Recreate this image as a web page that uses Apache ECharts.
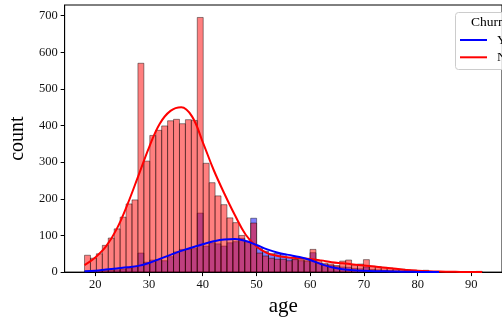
<!DOCTYPE html>
<html>
<head>
<meta charset="utf-8">
<script src="https://cdn.jsdelivr.net/npm/echarts@6/dist/echarts.min.js"></script>
<style>
  html, body { margin: 0; padding: 0; background: #fff; }
  #chart { width: 502px; height: 322px; }
</style>
</head>
<body>
<div id="chart"></div>
<script>
// histogram bins: 67 equal bins between the youngest and oldest age
const binStart = 18;
const binEnd = 92;
const binCount = 67;

// counts per bin
const noCounts = [
  46, 38, 50, 73, 93, 118, 150, 186, 197, 570,
  303, 373, 387, 399, 413, 417, 405, 416, 414, 695,
  297, 244, 208, 184, 148, 135, 100, 84, 134, 52,
  44, 38, 35, 35, 31, 35, 34, 33, 62, 31,
  24, 22, 18, 30, 33, 20, 22, 34, 16, 15,
  13, 11, 9, 8, 6, 5, 4, 5, 1, 1,
  0, 0, 0, 0, 1, 0, 2
];
const yesCounts = [
  1, 2, 3, 4, 5, 6, 8, 11, 15, 52,
  27, 33, 34, 31, 42, 55, 62, 62, 64, 161,
  71, 80, 77, 71, 80, 83, 92, 84, 147, 65,
  57, 50, 51, 49, 40, 34, 31, 29, 53, 24,
  20, 18, 15, 14, 13, 10, 9, 14, 7, 6,
  5, 4, 3, 3, 2, 2, 1, 2, 1, 0,
  0, 0, 0, 0, 0, 0, 0
];

// density curves (scaled to counts)
const kdeAges = [18, 20, 22, 24, 26, 28, 30, 32, 34, 36, 38, 40, 42, 44, 46, 48, 50, 52, 54, 56,
  58, 60, 62, 64, 66, 68, 70, 72, 74, 76, 78, 80, 82, 84, 86, 88, 90, 92];
const noKde = [19, 40, 70, 118, 185, 262, 340, 405, 440, 450, 425, 355, 280, 215, 155, 102, 70, 52, 44, 40,
  38, 36, 32, 27, 24, 21, 18, 15, 12, 9, 6, 4, 2.5, 1.5, 1, 0.5, 0.3, 0.2];
const yesKde = [2, 4, 7, 10, 13, 17, 25, 36, 47, 58, 67, 76, 84, 89, 90, 85, 74, 62, 53, 47,
  41, 33, 22, 13, 8, 5, 3.5, 2.5, 2, 1.5, 1, 0.6, 0.3, 0.2];

const xTicks = [20, 30, 40, 50, 60, 70, 80, 90];
const yTicks = [0, 100, 200, 300, 400, 500, 600, 700];

const binWidth = (binEnd - binStart) / binCount;
const toBins = (counts) =>
  counts.map((c, i) => [binStart + i * binWidth, binStart + (i + 1) * binWidth, c]);
const toLine = (vals) => vals.map((v, i) => [kdeAges[i], v]);

const serif = "'Liberation Serif', 'DejaVu Serif', serif";

function barRenderer(fill) {
  return function (params, api) {
    const top = api.coord([api.value(0), api.value(2)]);
    const bottom = api.coord([api.value(1), 0]);
    return {
      type: "rect",
      shape: { x: top[0], y: top[1], width: bottom[0] - top[0], height: bottom[1] - top[1] },
      style: { fill: fill, stroke: "rgba(0,0,0,0.55)", lineWidth: 0.8 },
    };
  };
}

const chart = echarts.init(document.getElementById("chart"), null, { renderer: "canvas" });

chart.setOption({
  animation: false,
  backgroundColor: "#fff",
  grid: {
    left: 61, right: -2, top: 5, bottom: 44,
    show: true, borderColor: "#000", borderWidth: 1,
  },
  xAxis: {
    type: "value",
    min: 14.3,
    max: 95.7,
    name: "age",
    nameLocation: "middle",
    nameGap: 20,
    nameTextStyle: { fontFamily: serif, fontSize: 21, color: "#000" },
    splitLine: { show: false },
    axisLine: { show: true, lineStyle: { color: "#000", width: 1 } },
    axisTick: { show: true, length: 4, customValues: xTicks, lineStyle: { color: "#000" } },
    axisLabel: { customValues: xTicks, fontFamily: serif, fontSize: 12.5, color: "#111", margin: 6 },
  },
  yAxis: {
    type: "value",
    min: 0,
    max: 729,
    name: "count",
    nameLocation: "middle",
    nameGap: 33,
    nameTextStyle: { fontFamily: serif, fontSize: 20, color: "#000" },
    splitLine: { show: false },
    axisLine: { show: true, lineStyle: { color: "#000", width: 1 } },
    axisTick: { show: true, length: 4, customValues: yTicks, lineStyle: { color: "#000" } },
    axisLabel: { customValues: yTicks, fontFamily: serif, fontSize: 12.5, color: "#111", margin: 7 },
  },
  legend: {
    data: ["Yes", "No"],
    orient: "vertical",
    left: 455,
    top: 28,
    z: 20,
    icon: "rect",
    itemWidth: 27,
    itemHeight: 2,
    itemGap: 3.3,
    textStyle: { fontFamily: serif, fontSize: 13.5, color: "#000", lineHeight: 14, padding: [0, 0, 0, 5] },
  },
  graphic: [
    {
      type: "rect",
      left: 455, top: 12, z: 10,
      shape: { width: 80, height: 57, r: 3 },
      style: { fill: "rgba(255,255,255,0.8)", stroke: "#ccc", lineWidth: 1 },
    },
    {
      type: "text",
      left: 471, top: 15, z: 21,
      style: { text: "Churn", font: "13.5px " + serif, fill: "#000" },
    },
  ],
  series: [
    {
      name: "Yes hist",
      type: "custom",
      renderItem: barRenderer("rgba(0,0,255,0.5)"),
      encode: { x: [0, 1], y: 2 },
      data: toBins(yesCounts),
      clip: true,
      silent: true,
    },
    {
      name: "No hist",
      type: "custom",
      renderItem: barRenderer("rgba(255,0,0,0.5)"),
      encode: { x: [0, 1], y: 2 },
      data: toBins(noCounts),
      clip: true,
      silent: true,
    },
    {
      name: "No",
      type: "line",
      data: toLine(noKde),
      smooth: 0.4,
      showSymbol: false,
      color: "#ff0000",
      lineStyle: { color: "#ff0000", width: 2 },
    },
    {
      name: "Yes",
      type: "line",
      data: toLine(yesKde),
      smooth: 0.4,
      showSymbol: false,
      color: "#0000ff",
      lineStyle: { color: "#0000ff", width: 2 },
    },
  ],
});
</script>
</body>
</html>
